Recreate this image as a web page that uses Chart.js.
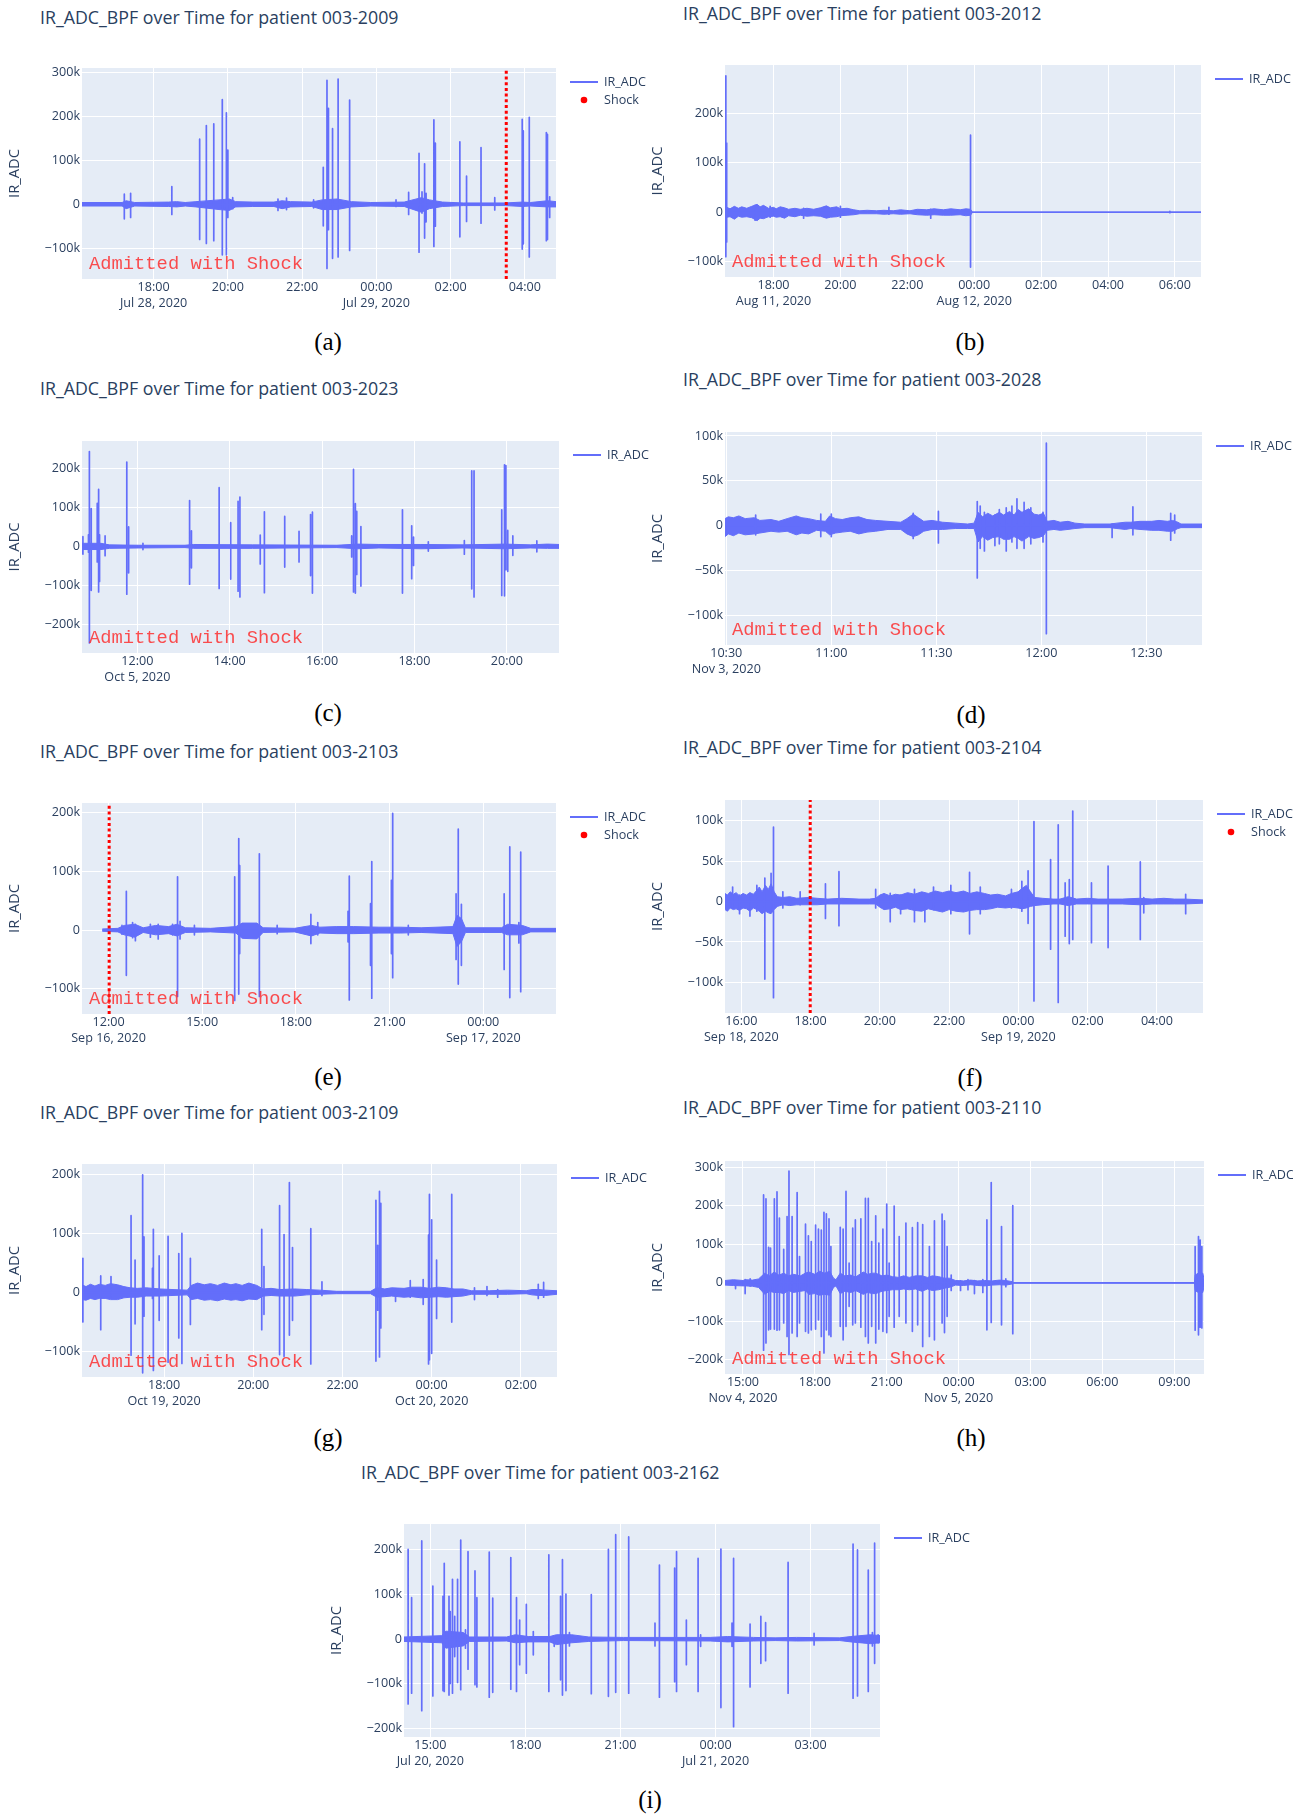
<!DOCTYPE html>
<html>
<head>
<meta charset="utf-8">
<script src="https://cdn.jsdelivr.net/npm/chart.js@4.4.1/dist/chart.umd.min.js"></script>
<style>
  body { margin: 0; width: 1306px; height: 1816px; background: #fff; position: relative; overflow: hidden; }
  canvas { position: absolute; }
  .title { position: absolute; font-family: 'Open Sans', sans-serif; font-size: 17.8px; color: #2a3f5f; white-space: nowrap; line-height: 24px; }
  .caption { position: absolute; font-family: 'Liberation Serif', serif; font-size: 25px; color: #000; line-height: 30px; transform: translateX(-50%); white-space: nowrap; }
</style>
</head>
<body>
<script>
// values in thousands (k), time in hours from midnight of the first day

// (a) patient 003-2009
const aTickX = [18, 20, 22, 24, 26, 28];
const aTickLabelX = [['18:00', 'Jul 28, 2020'], '20:00', '22:00', ['00:00', 'Jul 29, 2020'], '02:00', '04:00'];
const aTickY = [-100, 0, 100, 200, 300];
const aTickLabelY = ['\u2212100k', '0', '100k', '200k', '300k'];
const aBandTime = [16.07, 17.15, 17.26, 17.49, 18.40, 18.62, 18.85, 19.14, 19.76, 20.04, 20.21, 20.67, 21.24, 21.46, 21.69, 22.26, 22.54, 22.94, 23.33, 23.85, 24.75, 25.21, 25.43, 25.78, 26.34, 27.48, 27.93, 28.15, 28.61, 28.84];
const aBandUp = [4, 4, 8, 4, 5, 6, 4, 6, 10, 12, 6, 5, 5, 8, 6, 5, 10, 12, 6, 4, 5, 15, 10, 5, 3, 3, 5, 4, 8, 6];
const aBandLow = [-4, -4, -10, -4, -5, -6, -4, -6, -12, -14, -6, -5, -5, -10, -6, -5, -12, -12, -6, -4, -5, -18, -10, -5, -3, -3, -5, -4, -6, -6];
const aSpikeTime = [17.21, 17.38, 18.49, 19.24, 19.42, 19.62, 19.85, 19.96, 20.0, 20.13, 21.35, 21.58, 22.31, 22.57, 22.67, 22.71, 22.82, 22.97, 23.28, 24.53, 24.87, 25.15, 25.23, 25.30, 25.34, 25.55, 25.59, 26.25, 26.43, 26.82, 27.19, 27.93, 27.96, 28.12, 28.58, 28.61, 28.67];
const aSpikeHigh = [23, 25, 40, 148, 179, 183, 238, 208, 123, 15, 12, 14, 10, 84, 282, 218, 172, 285, 237, 10, 27, 116, 28, 92, 25, 192, 139, 142, 64, 129, 15, 193, 167, 198, 163, 159, 17];
const aSpikeLow = [-33, -30, -23, -80, -89, -83, -115, -115, -30, -10, -14, -12, -8, -49, -146, -58, -123, -120, -105, -5, -23, -109, -20, -77, -40, -96, -50, -74, -39, -43, -13, -102, -90, -120, -83, -80, -30];
const aShockTime = 27.5;

// (b) patient 003-2012
const bTickX = [18, 20, 22, 24, 26, 28, 30];
const bTickLabelX = [['18:00', 'Aug 11, 2020'], '20:00', '22:00', ['00:00', 'Aug 12, 2020'], '02:00', '04:00', '06:00'];
const bTickY = [-100, 0, 100, 200];
const bTickLabelY = ['\u2212100k', '0', '100k', '200k'];
const bBandTime = [16.56, 16.6, 16.7, 16.83, 16.95, 17.05, 17.2, 17.35, 17.51, 17.6, 17.7, 17.85, 18.0, 18.08, 18.2, 18.33, 18.45, 18.64, 18.8, 19.0, 19.2, 19.4, 19.58, 19.7, 19.89, 20.0, 20.2, 20.4, 20.58, 20.8, 21.08, 21.3, 21.58, 21.8, 22.08, 22.3, 22.58, 22.8, 23.08, 23.3, 23.58, 23.75, 23.89, 23.95, 30.78];
const bBandUp = [0, 10, 7, 12, 8, 11, 8, 12, 16, 11, 14, 8, 10, 7, 11, 9, 6, 8, 6, 8, 6, 9, 13, 9, 11, 7, 8, 5, 3, 4, 3, 4, 3, 5, 3, 6, 5, 7, 5, 7, 5, 7, 6, 0, 0];
const bBandLow = [0, -10, -9, -14, -8, -10, -9, -11, -17, -12, -13, -9, -8, -10, -9, -12, -7, -9, -6, -8, -7, -8, -12, -10, -9, -7, -6, -5, -3, -3, -3, -4, -3, -4, -3, -5, -6, -5, -6, -6, -5, -7, -6, 0, 0];
const bSpikeTime = [16.575, 16.6, 17.45, 17.9, 18.9, 20.0, 21.45, 22.7, 23.89, 29.85];
const bSpikeHigh = [276, 140, 14, 12, 8, 12, 10, 6, 156, 2];
const bSpikeLow = [-90, -60, -16, -10, -12, -10, -4, -12, -111, -1];

// (c) patient 003-2023
const cTickX = [12, 14, 16, 18, 20];
const cTickLabelX = [['12:00', 'Oct 5, 2020'], '14:00', '16:00', '18:00', '20:00'];
const cTickY = [-200, -100, 0, 100, 200];
const cTickLabelY = ['\u2212200k', '\u2212100k', '0', '100k', '200k'];
const cBandTime = [10.80, 11.21, 11.39, 12.03, 13.03, 13.21, 14.49, 16.32, 16.77, 17.23, 18.14, 19.05, 19.96, 20.51, 20.88, 21.13];
const cBandUp = [8, 8, 4, 3, 3, 5, 4, 3, 6, 5, 5, 4, 6, 4, 6, 5];
const cBandLow = [-8, -8, -5, -4, -3, -5, -5, -3, -6, -4, -6, -4, -6, -4, -5, -5];
const cSpikeTime = [10.82, 10.94, 10.96, 11.0, 11.13, 11.16, 11.18, 11.30, 11.77, 11.81, 12.12, 13.13, 13.17, 13.77, 14.02, 14.18, 14.22, 14.66, 14.75, 15.19, 15.50, 15.75, 15.79, 16.64, 16.68, 16.72, 16.75, 16.84, 17.74, 17.94, 17.98, 18.30, 19.08, 19.24, 19.29, 19.89, 19.95, 19.98, 20.02, 20.13, 20.65];
const cSpikeHigh = [25, 30, 244, 97, 111, 147, 30, 27, 217, 50, 8, 118, 40, 151, 61, 116, 127, 29, 89, 77, 39, 82, 88, 27, 198, 110, 90, 51, 94, 53, 24, 12, 15, 194, 194, 94, 210, 208, 41, 27, 14];
const cSpikeLow = [-20, -15, -248, -113, -40, -117, -90, -24, -123, -68, -8, -97, -55, -108, -84, -115, -130, -45, -119, -53, -40, -75, -120, -27, -117, -120, -72, -102, -120, -83, -49, -12, -20, -109, -130, -126, -127, -60, -64, -23, -14];

// (d) patient 003-2028
const dTickX = [10.5, 11, 11.5, 12, 12.5];
const dTickLabelX = [['10:30', 'Nov 3, 2020'], '11:00', '11:30', '12:00', '12:30'];
const dTickY = [-100, -50, 0, 50, 100];
const dTickLabelY = ['\u2212100k', '\u221250k', '0', '50k', '100k'];
const dBandTime = [10.494, 10.51, 10.534, 10.56, 10.59, 10.633, 10.66, 10.713, 10.75, 10.79, 10.833, 10.86, 10.892, 10.93, 10.972, 10.992, 11.02, 11.052, 11.09, 11.131, 11.17, 11.211, 11.27, 11.331, 11.36, 11.39, 11.415, 11.44, 11.48, 11.53, 11.59, 11.649, 11.68, 11.699, 11.72, 11.745, 11.769, 11.8, 11.82, 11.849, 11.87, 11.89, 11.908, 11.94, 11.965, 11.988, 12.01, 12.028, 12.06, 12.09, 12.127, 12.16, 12.207, 12.327, 12.36, 12.4, 12.426, 12.47, 12.526, 12.56, 12.6, 12.625, 12.65, 12.665, 12.765];
const dBandUp = [8, 10, 9, 11, 8, 9, 6, 7, 5, 8, 11, 9, 8, 6, 5, 11, 8, 7, 9, 10, 7, 6, 5, 4, 8, 13, 9, 5, 6, 4, 3, 2, 3, 15, 10, 14, 11, 15, 12, 16, 12, 18, 15, 19, 13, 12, 14, 5, 6, 4, 5, 3, 2, 2, 3, 4, 4, 5, 5, 6, 5, 6, 4, 2, 2];
const dBandLow = [-12, -9, -11, -8, -10, -9, -8, -6, -7, -6, -10, -8, -9, -5, -6, -10, -8, -7, -6, -9, -7, -6, -4, -4, -9, -12, -10, -6, -4, -4, -3, -3, -3, -18, -12, -16, -13, -12, -15, -15, -12, -14, -17, -12, -14, -13, -11, -5, -4, -5, -4, -3, -2, -2, -3, -4, -3, -4, -5, -5, -6, -6, -3, -2, -2];
const dSpikeTime = [10.64, 10.95, 11.0, 11.39, 11.51, 11.695, 11.709, 11.729, 11.779, 11.80, 11.833, 11.86, 11.884, 11.918, 11.95, 12.008, 12.024, 12.337, 12.436, 12.616, 12.635];
const dSpikeHigh = [12, 13, 13, 14, 16, 27, 22, 15, 12, 18, 20, 22, 30, 26, 20, 15, 92, 2, 21, 14, 12];
const dSpikeLow = [-10, -12, -12, -14, -19, -58, -25, -28, -22, -20, -28, -18, -25, -25, -20, -18, -120, -13, -10, -16, -8];

// (e) patient 003-2103
const eTickX = [12, 15, 18, 21, 24];
const eTickLabelX = [['12:00', 'Sep 16, 2020'], '15:00', '18:00', '21:00', ['00:00', 'Sep 17, 2020']];
const eTickY = [-100, 0, 100, 200];
const eTickLabelY = ['\u2212100k', '0', '100k', '200k'];
const eBandTime = [11.80, 12.30, 12.50, 12.84, 13.11, 13.51, 13.92, 14.19, 14.46, 15.27, 16.08, 16.28, 16.75, 16.95, 17.96, 18.50, 18.77, 19.31, 19.85, 20.66, 21.34, 22.01, 23.03, 23.16, 23.30, 23.43, 24.58, 24.78, 25.25, 25.52, 26.33];
const eBandUp = [2, 3, 8, 10, 4, 8, 6, 10, 4, 3, 6, 12, 12, 4, 3, 8, 5, 6, 6, 5, 5, 4, 6, 25, 20, 4, 4, 10, 8, 3, 3];
const eBandLow = [-2, -3, -8, -12, -4, -8, -6, -10, -4, -3, -5, -14, -15, -4, -3, -10, -5, -6, -6, -5, -5, -4, -6, -28, -20, -4, -4, -8, -8, -3, -3];
const eSpikeTime = [12.43, 12.57, 12.77, 12.86, 13.34, 13.59, 14.05, 14.21, 14.29, 14.75, 16.04, 16.17, 16.20, 16.83, 17.40, 18.48, 18.70, 19.67, 19.71, 20.39, 20.43, 21.06, 21.10, 21.60, 23.13, 23.20, 23.30, 24.67, 24.85, 25.14, 25.20];
const eSpikeHigh = [8, 66, 13, 10, 10, 10, 10, 91, 15, 8, 91, 156, 110, 130, 8, 27, 13, 32, 92, 45, 117, 85, 199, 8, 62, 172, 44, 62, 142, 13, 133];
const eSpikeLow = [-7, -77, -13, -18, -12, -15, -8, -113, -15, -8, -120, -109, -40, -113, -6, -23, -8, -20, -119, -60, -116, -40, -81, -8, -50, -92, -60, -67, -115, -22, -105];
const eShockTime = 12.02;

// (f) patient 003-2104
const fTickX = [16, 18, 20, 22, 24, 26, 28];
const fTickLabelX = [['16:00', 'Sep 18, 2020'], '18:00', '20:00', '22:00', ['00:00', 'Sep 19, 2020'], '02:00', '04:00'];
const fTickY = [-100, -50, 0, 50, 100];
const fTickLabelY = ['\u2212100k', '\u221250k', '0', '50k', '100k'];
const fBandTime = [15.53, 15.6, 15.68, 15.77, 15.85, 15.95, 16.05, 16.15, 16.25, 16.35, 16.45, 16.52, 16.6, 16.7, 16.78, 16.86, 16.95, 17.04, 17.2, 17.4, 17.6, 17.95, 18.19, 18.5, 18.9, 19.40, 19.7, 19.88, 20.0, 20.12, 20.3, 20.45, 20.60, 20.8, 21.0, 21.21, 21.4, 21.6, 21.81, 22.0, 22.2, 22.42, 22.6, 22.8, 23.02, 23.2, 23.4, 23.63, 23.8, 23.99, 24.1, 24.23, 24.35, 24.47, 24.7, 25.0, 25.20, 25.44, 25.68, 26.0, 26.3, 26.65, 27.0, 27.49, 27.86, 28.2, 28.5, 28.82, 29.33];
const fBandUp = [10, 8, 12, 9, 11, 7, 10, 8, 11, 9, 14, 18, 12, 20, 15, 22, 12, 6, 5, 6, 4, 5, 4, 3, 4, 3, 3, 4, 8, 10, 7, 9, 8, 11, 9, 12, 10, 13, 11, 13, 11, 13, 10, 12, 10, 8, 9, 7, 10, 12, 16, 20, 12, 5, 4, 3, 3, 6, 3, 4, 3, 3, 3, 4, 3, 4, 3, 3, 2];
const fBandLow = [-10, -12, -8, -10, -9, -11, -8, -9, -12, -8, -10, -12, -15, -12, -14, -15, -10, -6, -4, -5, -4, -4, -4, -3, -3, -3, -3, -3, -7, -10, -9, -7, -10, -9, -11, -12, -9, -11, -13, -10, -12, -13, -11, -10, -10, -9, -7, -8, -7, -8, -9, -8, -6, -5, -4, -3, -3, -5, -3, -3, -3, -3, -3, -4, -3, -3, -3, -3, -2];
const fSpikeTime = [15.75, 15.95, 16.25, 16.45, 16.68, 16.86, 16.93, 17.20, 17.70, 18.43, 18.82, 19.88, 20.30, 20.60, 21.0, 21.30, 21.55, 22.05, 22.59, 22.90, 23.80, 24.10, 24.28, 24.45, 24.93, 25.15, 25.35, 25.47, 25.57, 26.11, 26.59, 27.52, 27.62, 28.83];
const fSpikeHigh = [18, 8, 10, 20, 29, 35, 92, 12, 12, 22, 37, 15, 10, 8, 15, 8, 18, 20, 36, 18, 15, 25, 38, 99, 52, 95, 23, 27, 112, 23, 44, 49, 5, 9];
const fSpikeLow = [-8, -15, -18, -12, -96, -12, -119, -8, -4, -21, -30, -8, -25, -15, -25, -25, -10, -15, -40, -15, -8, -12, -27, -123, -59, -125, -43, -52, -47, -51, -57, -47, -14, -15];
const fShockTime = 17.99;

// (g) patient 003-2109
const gTickX = [18, 20, 22, 24, 26];
const gTickLabelX = [['18:00', 'Oct 19, 2020'], '20:00', '22:00', ['00:00', 'Oct 20, 2020'], '02:00'];
const gTickY = [-100, 0, 100, 200];
const gTickLabelY = ['\u2212100k', '0', '100k', '200k'];
const gBandTime = [16.16, 16.25, 16.35, 16.45, 16.55, 16.68, 16.8, 16.96, 17.1, 17.24, 17.4, 17.6, 17.91, 18.2, 18.52, 18.61, 18.75, 18.9, 19.04, 19.2, 19.35, 19.5, 19.61, 19.75, 19.9, 20.08, 20.22, 20.4, 20.6, 20.93, 21.2, 21.49, 21.87, 22.63, 22.77, 22.95, 23.1, 23.38, 23.55, 23.76, 23.95, 24.15, 24.33, 24.5, 24.70, 24.89, 25.3, 25.7, 26.12, 26.25, 26.40, 26.55, 26.81];
const gBandUp = [13, 10, 14, 11, 14, 12, 15, 13, 10, 8, 7, 8, 6, 5, 4, 12, 16, 13, 15, 12, 16, 13, 15, 12, 16, 12, 6, 7, 5, 6, 5, 4, 2, 2, 8, 6, 8, 7, 9, 9, 7, 9, 8, 6, 6, 3, 3, 4, 3, 5, 5, 4, 3];
const gBandLow = [-12, -13, -10, -12, -10, -10, -12, -12, -9, -8, -8, -6, -6, -5, -4, -12, -10, -13, -12, -14, -11, -13, -12, -14, -11, -12, -6, -5, -6, -6, -4, -3, -2, -2, -8, -7, -6, -8, -7, -9, -8, -7, -8, -7, -6, -3, -3, -3, -2, -4, -5, -5, -3];
const gSpikeTime = [16.18, 16.58, 16.81, 17.26, 17.35, 17.52, 17.55, 17.74, 17.76, 17.89, 18.09, 18.33, 18.40, 18.59, 20.19, 20.24, 20.59, 20.69, 20.81, 20.88, 21.29, 21.54, 22.75, 22.79, 22.83, 22.86, 23.19, 23.52, 23.81, 23.93, 23.95, 24.0, 24.11, 24.45, 24.96, 25.24, 25.48, 26.39, 26.51];
const gSpikeHigh = [58, 28, 27, 130, 55, 199, 94, 41, 107, 62, 95, 66, 100, 58, 107, 44, 147, 98, 186, 76, 108, 18, 156, 80, 171, 151, 5, 20, 22, 97, 166, 123, 55, 166, 8, 10, 5, 14, 17];
const gSpikeLow = [-50, -63, -8, -106, -53, -136, -40, -10, -132, -47, -118, -77, -120, -54, -63, -37, -105, -108, -72, -47, -121, -5, -116, -30, -109, -60, -15, -8, -20, -121, -114, -103, -44, -50, -12, -5, -8, -10, -8];

// (h) patient 003-2110
const hTickX = [15, 18, 21, 24, 27, 30, 33];
const hTickLabelX = [['15:00', 'Nov 4, 2020'], '18:00', '21:00', ['00:00', 'Nov 5, 2020'], '03:00', '06:00', '09:00'];
const hTickY = [-200, -100, 0, 100, 200, 300];
const hTickLabelY = ['\u2212200k', '\u2212100k', '0', '100k', '200k', '300k'];
const hBandTime = [14.25, 14.6, 15.0, 15.12, 15.4, 15.65, 15.91, 16.1, 16.3, 16.5, 16.70, 16.9, 17.1, 17.40, 17.6, 17.75, 18.0, 18.2, 18.4, 18.62, 18.78, 18.88, 19.06, 19.25, 19.50, 19.7, 20.02, 20.2, 20.4, 20.54, 20.8, 21.0, 21.24, 21.5, 21.7, 21.94, 22.2, 22.47, 22.7, 22.9, 23.17, 23.4, 23.61, 23.87, 24.2, 24.5, 24.8, 25.09, 25.4, 25.7, 25.97, 26.23, 26.32, 33.84, 33.87, 34.0, 34.19, 34.24];
const hBandUp = [6, 8, 6, 8, 7, 10, 25, 18, 28, 20, 25, 18, 22, 18, 25, 28, 22, 30, 25, 30, 12, 8, 25, 18, 20, 15, 28, 22, 25, 25, 18, 20, 16, 14, 18, 14, 18, 18, 14, 18, 16, 12, 12, 6, 5, 7, 5, 6, 5, 7, 6, 3, 0, 0, 20, 25, 25, 10];
const hBandLow = [-6, -7, -8, -8, -9, -12, -30, -22, -25, -25, -28, -20, -25, -22, -20, -30, -28, -32, -30, -32, -12, -8, -28, -22, -25, -20, -30, -25, -28, -28, -22, -20, -18, -18, -16, -18, -16, -22, -16, -20, -18, -14, -12, -6, -7, -5, -7, -8, -6, -5, -6, -3, 0, 0, -20, -25, -25, -10];
const hSpikeTime = [14.69, 15.09, 15.30, 15.86, 15.96, 16.07, 16.15, 16.31, 16.42, 16.52, 16.70, 16.84, 16.92, 17.05, 17.26, 17.36, 17.61, 17.73, 17.85, 18.03, 18.15, 18.27, 18.38, 18.48, 18.59, 18.67, 19.06, 19.18, 19.30, 19.43, 19.58, 19.69, 19.92, 20.11, 20.23, 20.37, 20.54, 20.67, 20.84, 21.0, 21.10, 21.31, 21.52, 21.80, 22.07, 22.29, 22.50, 22.78, 22.99, 23.31, 23.41, 23.52, 23.69, 24.08, 24.39, 24.66, 25.01, 25.18, 25.36, 25.79, 25.97, 26.26, 33.87, 34.01, 34.08, 34.15];
const hSpikeHigh = [5, 8, 10, 228, 218, 92, 90, 218, 236, 168, 87, 172, 290, 172, 234, 68, 152, 122, 107, 150, 139, 137, 183, 179, 166, 94, 144, 139, 237, 51, 142, 163, 166, 219, 219, 107, 174, 103, 139, 204, 51, 199, 120, 155, 143, 156, 151, 94, 161, 178, 161, 94, 20, 5, 8, 6, 8, 163, 260, 146, 10, 200, 94, 120, 111, 94];
const hSpikeLow = [-15, -28, -8, -175, -156, -122, -120, -120, -123, -122, -104, -139, -186, -130, -139, -104, -126, -130, -122, -120, -96, -139, -182, -122, -135, -139, -113, -148, -113, -61, -109, -104, -115, -139, -156, -113, -156, -120, -126, -129, -87, -115, -87, -104, -126, -109, -165, -139, -148, -104, -129, -87, -20, -20, -18, -28, -25, -122, -103, -109, -10, -132, -123, -135, -115, -117];

// (i) patient 003-2162
const iTickX = [15, 18, 21, 24, 27];
const iTickLabelX = [['15:00', 'Jul 20, 2020'], '18:00', '21:00', ['00:00', 'Jul 21, 2020'], '03:00'];
const iTickY = [-200, -100, 0, 100, 200];
const iTickLabelY = ['\u2212200k', '\u2212100k', '0', '100k', '200k'];
const iBandTime = [14.17, 15.36, 15.49, 16.04, 16.24, 17.41, 17.68, 18.09, 18.77, 18.98, 19.46, 20.00, 21.10, 23.83, 24.38, 25.20, 25.88, 26.56, 27.92, 28.27, 28.89, 29.19];
const iBandUp = [5, 8, 18, 15, 5, 5, 10, 6, 6, 10, 10, 5, 4, 4, 6, 4, 3, 4, 3, 6, 10, 8];
const iBandLow = [-5, -8, -20, -15, -5, -4, -8, -6, -6, -12, -8, -5, -3, -4, -6, -4, -3, -4, -3, -6, -10, -8];
const iSpikeTime = [14.30, 14.41, 14.73, 15.08, 15.40, 15.44, 15.59, 15.63, 15.70, 15.77, 15.86, 15.96, 16.11, 16.19, 16.41, 16.47, 16.86, 16.97, 17.54, 17.72, 17.82, 18.03, 18.25, 18.74, 18.91, 19.11, 19.17, 19.28, 19.39, 20.08, 20.62, 20.85, 21.26, 22.09, 22.23, 22.71, 22.77, 23.08, 23.45, 23.53, 24.17, 24.52, 24.57, 25.09, 25.43, 25.58, 26.29, 27.11, 28.34, 28.48, 28.82, 28.95, 29.02, 29.13];
const iSpikeHigh = [201, 93, 220, 119, 96, 170, 96, 62, 134, 51, 134, 222, 21, 196, 153, 93, 195, 92, 183, 93, 43, 78, 17, 189, 6, 96, 178, 101, 15, 100, 201, 234, 229, 36, 166, 159, 196, 43, 181, 10, 202, 36, 181, 34, 51, 37, 172, 13, 213, 200, 155, 15, 215, 10];
const iSpikeLow = [-145, -121, -160, -127, -115, -117, -125, -99, -121, -39, -97, -113, -20, -67, -102, -107, -130, -119, -112, -117, -57, -76, -35, -117, -16, -91, -125, -115, -15, -122, -128, -119, -121, -15, -130, -95, -117, -57, -117, -16, -153, -16, -196, -107, -54, -48, -121, -13, -132, -127, -117, -15, -54, -8];

const LINE = '#636efa';
const INK = '#2a3f5f';
const SANS = "'Open Sans', sans-serif";

// page layout of each panel: plot area box, title and caption spots, axis ranges
const panels = [
  { title: 'IR_ADC_BPF over Time for patient 003-2009', caption: '(a)', L: 82, T: 68, R: 556, B: 279, titleX: 40, titleY: 17, capX: 328, capY: 342,
    xMin: 16.07, xMax: 28.84, yMin: -170, yMax: 310, note: true, edge: null, shock: aShockTime,
    tickX: aTickX, tickLabelX: aTickLabelX, tickY: aTickY, tickLabelY: aTickLabelY,
    bandTime: aBandTime, bandUp: aBandUp, bandLow: aBandLow, spikeTime: aSpikeTime, spikeHigh: aSpikeHigh, spikeLow: aSpikeLow },
  { title: 'IR_ADC_BPF over Time for patient 003-2012', caption: '(b)', L: 725, T: 65, R: 1201, B: 277, titleX: 683, titleY: 13, capX: 970, capY: 342,
    xMin: 16.55, xMax: 30.78, yMin: -131, yMax: 298, note: true, edge: 1293, shock: null,
    tickX: bTickX, tickLabelX: bTickLabelX, tickY: bTickY, tickLabelY: bTickLabelY,
    bandTime: bBandTime, bandUp: bBandUp, bandLow: bBandLow, spikeTime: bSpikeTime, spikeHigh: bSpikeHigh, spikeLow: bSpikeLow },
  { title: 'IR_ADC_BPF over Time for patient 003-2023', caption: '(c)', L: 82, T: 441, R: 559, B: 653, titleX: 40, titleY: 388, capX: 328, capY: 713,
    xMin: 10.80, xMax: 21.13, yMin: -274, yMax: 271, note: true, edge: null, shock: null,
    tickX: cTickX, tickLabelX: cTickLabelX, tickY: cTickY, tickLabelY: cTickLabelY,
    bandTime: cBandTime, bandUp: cBandUp, bandLow: cBandLow, spikeTime: cSpikeTime, spikeHigh: cSpikeHigh, spikeLow: cSpikeLow },
  { title: 'IR_ADC_BPF over Time for patient 003-2028', caption: '(d)', L: 725, T: 432, R: 1202, B: 645, titleX: 683, titleY: 379, capX: 971, capY: 715,
    xMin: 10.494, xMax: 12.765, yMin: -132.6, yMax: 104.4, note: true, edge: 1293, shock: null,
    tickX: dTickX, tickLabelX: dTickLabelX, tickY: dTickY, tickLabelY: dTickLabelY,
    bandTime: dBandTime, bandUp: dBandUp, bandLow: dBandLow, spikeTime: dSpikeTime, spikeHigh: dSpikeHigh, spikeLow: dSpikeLow },
  { title: 'IR_ADC_BPF over Time for patient 003-2103', caption: '(e)', L: 82, T: 803, R: 556, B: 1014, titleX: 40, titleY: 751, capX: 328, capY: 1077,
    xMin: 11.15, xMax: 26.33, yMin: -143, yMax: 216.7, note: true, edge: null, shock: eShockTime,
    tickX: eTickX, tickLabelX: eTickLabelX, tickY: eTickY, tickLabelY: eTickLabelY,
    bandTime: eBandTime, bandUp: eBandUp, bandLow: eBandLow, spikeTime: eSpikeTime, spikeHigh: eSpikeHigh, spikeLow: eSpikeLow },
  { title: 'IR_ADC_BPF over Time for patient 003-2104', caption: '(f)', L: 725, T: 800, R: 1203, B: 1013, titleX: 683, titleY: 747, capX: 970, capY: 1078,
    xMin: 15.53, xMax: 29.33, yMin: -138, yMax: 125.7, note: false, edge: 1293, shock: fShockTime,
    tickX: fTickX, tickLabelX: fTickLabelX, tickY: fTickY, tickLabelY: fTickLabelY,
    bandTime: fBandTime, bandUp: fBandUp, bandLow: fBandLow, spikeTime: fSpikeTime, spikeHigh: fSpikeHigh, spikeLow: fSpikeLow },
  { title: 'IR_ADC_BPF over Time for patient 003-2109', caption: '(g)', L: 82, T: 1164, R: 557, B: 1377, titleX: 40, titleY: 1112, capX: 328, capY: 1438,
    xMin: 16.16, xMax: 26.81, yMin: -143, yMax: 217.5, note: true, edge: null, shock: null,
    tickX: gTickX, tickLabelX: gTickLabelX, tickY: gTickY, tickLabelY: gTickLabelY,
    bandTime: gBandTime, bandUp: gBandUp, bandLow: gBandLow, spikeTime: gSpikeTime, spikeHigh: gSpikeHigh, spikeLow: gSpikeLow },
  { title: 'IR_ADC_BPF over Time for patient 003-2110', caption: '(h)', L: 725, T: 1161, R: 1204, B: 1374, titleX: 683, titleY: 1107, capX: 971, capY: 1438,
    xMin: 14.25, xMax: 34.24, yMin: -236.6, yMax: 316, note: true, edge: 1293, shock: null,
    tickX: hTickX, tickLabelX: hTickLabelX, tickY: hTickY, tickLabelY: hTickLabelY,
    bandTime: hBandTime, bandUp: hBandUp, bandLow: hBandLow, spikeTime: hSpikeTime, spikeHigh: hSpikeHigh, spikeLow: hSpikeLow },
  { title: 'IR_ADC_BPF over Time for patient 003-2162', caption: '(i)', L: 404, T: 1524, R: 880, B: 1737, titleX: 361, titleY: 1472, capX: 650, capY: 1800,
    xMin: 14.17, xMax: 29.19, yMin: -219, yMax: 258, note: false, edge: null, shock: null,
    tickX: iTickX, tickLabelX: iTickLabelX, tickY: iTickY, tickLabelY: iTickLabelY,
    bandTime: iBandTime, bandUp: iBandUp, bandLow: iBandLow, spikeTime: iSpikeTime, spikeHigh: iSpikeHigh, spikeLow: iSpikeLow }
];

// plotly-like light blue plot background
const plotBg = {
  id: 'plotBg',
  beforeDraw(chart) {
    const { ctx, chartArea: a } = chart;
    ctx.save();
    ctx.fillStyle = '#e5ecf6';
    ctx.fillRect(a.left, a.top, a.right - a.left, a.bottom - a.top);
    ctx.restore();
  }
};

// legend to the right of the plot, top aligned
const sideLegend = {
  id: 'sideLegend',
  afterDraw(chart) {
    const { ctx, chartArea: a } = chart;
    const items = chart.data.datasets.filter(d => d.legendMark).sort((p, q) => p.legendOrder - q.legendOrder);
    let y = a.top + 14;
    ctx.save();
    ctx.font = '12.6px ' + SANS;
    ctx.textBaseline = 'middle';
    items.forEach(d => {
      if (d.legendMark === 'line') {
        ctx.strokeStyle = d.borderColor;
        ctx.lineWidth = 2;
        ctx.beginPath();
        ctx.moveTo(a.right + 14, y);
        ctx.lineTo(a.right + 42, y);
        ctx.stroke();
      } else {
        ctx.fillStyle = d.borderColor;
        ctx.beginPath();
        ctx.arc(a.right + 28, y, 3.3, 0, Math.PI * 2);
        ctx.fill();
      }
      ctx.fillStyle = INK;
      ctx.fillText(d.label, a.right + 48, y);
      y += 18;
    });
    ctx.restore();
  }
};

const shockNote = {
  id: 'shockNote',
  afterDatasetsDraw(chart, args, opts) {
    if (!opts.text) return;
    const { ctx, chartArea: a } = chart;
    ctx.save();
    ctx.font = "18.8px 'Liberation Mono', 'Courier New', monospace";
    ctx.fillStyle = 'rgba(255, 30, 30, 0.78)';
    ctx.textBaseline = 'middle';
    ctx.fillText(opts.text, a.left + 7, a.bottom - 15);
    ctx.restore();
  }
};

function spikeTrace(start, end, times, highs, lows) {
  const pts = [{ x: start, y: 0 }];
  times.forEach((t, i) => {
    pts.push({ x: t, y: 0 }, { x: t, y: highs[i] }, { x: t, y: lows[i] }, { x: t, y: 0 });
  });
  pts.push({ x: end, y: 0 });
  return pts;
}

function drawPanel(p) {
  const yAxisW = 82, padTop = 20, xAxisH = 45;
  const left = p.L - yAxisW;
  const top = p.T - padTop;
  const padRight = p.edge ? p.edge - p.R : 95;
  const width = p.R - left + padRight;
  const height = p.B - top + xAxisH;

  const title = document.createElement('div');
  title.className = 'title';
  title.textContent = p.title;
  title.style.left = p.titleX + 'px';
  title.style.top = (p.titleY - 12) + 'px';
  document.body.appendChild(title);

  const cap = document.createElement('div');
  cap.className = 'caption';
  cap.textContent = p.caption;
  cap.style.left = p.capX + 'px';
  cap.style.top = (p.capY - 15) + 'px';
  document.body.appendChild(cap);

  const canvas = document.createElement('canvas');
  canvas.width = width;
  canvas.height = height;
  canvas.style.left = left + 'px';
  canvas.style.top = top + 'px';
  canvas.style.width = width + 'px';
  canvas.style.height = height + 'px';
  document.body.appendChild(canvas);

  const first = p.bandTime[0];
  const last = p.bandTime[p.bandTime.length - 1];

  const datasets = [];
  if (p.shock !== null) {
    datasets.push({
      label: 'Shock', legendMark: 'dot', legendOrder: 2,
      data: [{ x: p.shock, y: p.yMin }, { x: p.shock, y: p.yMax }],
      borderColor: 'red', borderWidth: 3, borderDash: [3, 2.7], pointRadius: 0
    });
  }
  datasets.push({
    label: 'IR_ADC', legendMark: 'line', legendOrder: 1,
    data: spikeTrace(first, last, p.spikeTime, p.spikeHigh, p.spikeLow),
    borderColor: LINE, borderWidth: 1.7, borderJoinStyle: 'round', pointRadius: 0
  });
  datasets.push({
    label: 'band upper',
    data: p.bandTime.map((t, i) => ({ x: t, y: p.bandUp[i] })),
    borderColor: LINE, backgroundColor: LINE, borderWidth: 1, pointRadius: 0, fill: '+1'
  });
  datasets.push({
    label: 'band lower',
    data: p.bandTime.map((t, i) => ({ x: t, y: p.bandLow[i] })),
    borderColor: LINE, borderWidth: 1, pointRadius: 0, fill: false
  });

  const tickFont = { family: SANS, size: 12.6, lineHeight: 1.27 };

  new Chart(canvas, {
    type: 'line',
    data: { datasets },
    plugins: [plotBg, sideLegend, shockNote],
    options: {
      responsive: false,
      animation: false,
      devicePixelRatio: 1,
      events: [],
      layout: { padding: { left: 0, top: padTop, right: padRight, bottom: 0 } },
      plugins: {
        legend: { display: false },
        tooltip: { enabled: false },
        shockNote: p.note ? { text: 'Admitted with Shock' } : {}
      },
      scales: {
        x: {
          type: 'linear', min: p.xMin, max: p.xMax,
          afterFit: s => { s.height = xAxisH; },
          afterBuildTicks: s => { s.ticks = p.tickX.map(v => ({ value: v })); },
          ticks: { autoSkip: false, maxRotation: 0, minRotation: 0, padding: 0, color: INK, font: tickFont,
                   callback: (v, i) => p.tickLabelX[i] },
          grid: { color: '#ffffff', lineWidth: 1, drawTicks: false },
          border: { display: false }
        },
        y: {
          type: 'linear', min: p.yMin, max: p.yMax,
          afterFit: s => { s.width = yAxisW; },
          afterBuildTicks: s => { s.ticks = p.tickY.map(v => ({ value: v })); },
          ticks: { autoSkip: false, padding: 2, color: INK, font: tickFont,
                   callback: (v, i) => p.tickLabelY[i] },
          grid: { color: '#ffffff', lineWidth: 1, drawTicks: false },
          border: { display: false },
          title: { display: true, text: 'IR_ADC', color: INK, font: { family: SANS, size: 14.7 }, padding: { top: 6.5, bottom: 0 } }
        }
      }
    }
  });
}

panels.forEach(drawPanel);
</script>
</body>
</html>
